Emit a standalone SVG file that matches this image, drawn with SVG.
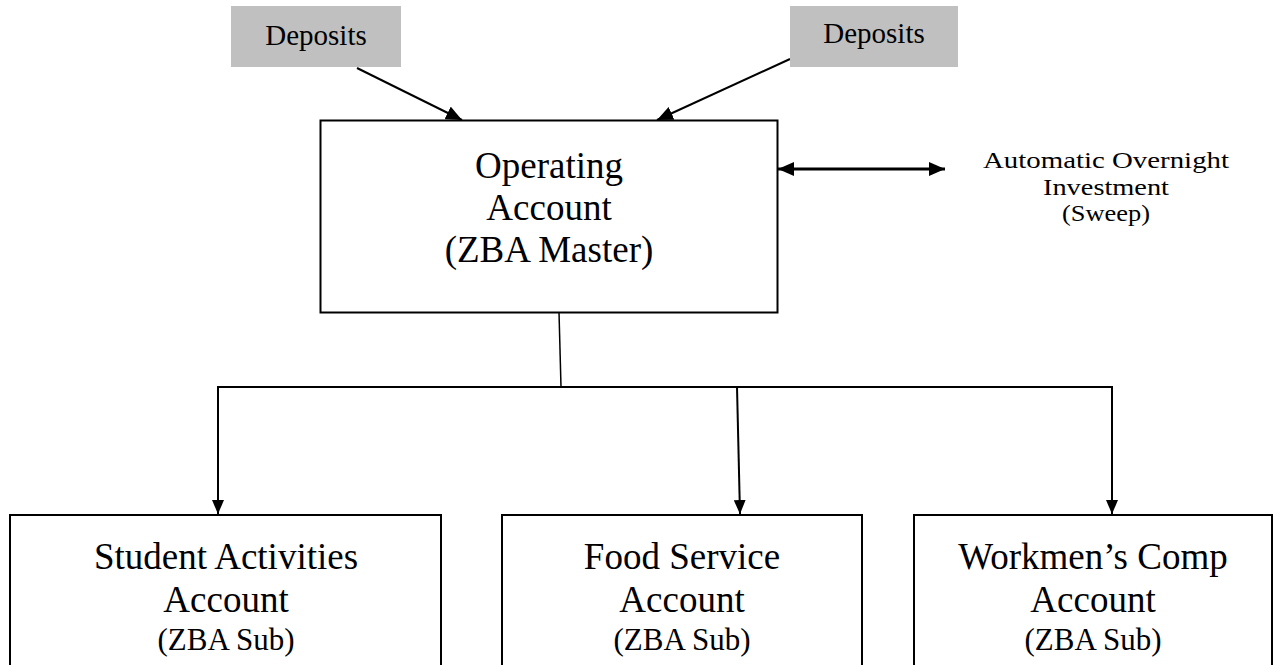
<svg xmlns="http://www.w3.org/2000/svg" width="1282" height="665" viewBox="0 0 1282 665">
<style>
.dep{fill:#c0c0c0;stroke:none}
.box{fill:#fff;stroke:#000;stroke-width:2}
.ln{stroke:#000;stroke-width:2;fill:none}
.t{font-family:"Liberation Serif","Times New Roman",serif;fill:#000;text-anchor:middle}
.big{font-size:37px}
.sm{font-size:29px}
.sw{font-size:23.5px}
.md{font-size:31px}
</style>
<defs>
<marker id="ah" viewBox="0 0 14 12" refX="14" refY="6" markerWidth="14" markerHeight="12" markerUnits="userSpaceOnUse" orient="auto-start-reverse">
<path d="M0,0 L14,6 L0,12 z" fill="#000"/>
</marker>
<marker id="ah2" viewBox="0 0 16 14" refX="16" refY="7" markerWidth="16" markerHeight="14" markerUnits="userSpaceOnUse" orient="auto-start-reverse">
<path d="M0,0 L16,7 L0,14 z" fill="#000"/>
</marker>
</defs>
<rect width="1282" height="665" fill="#fff"/>
<g id="connectors">
<line class="ln" x1="357" y1="68" x2="462" y2="120" marker-end="url(#ah2)"/>
<line class="ln" x1="790" y1="59" x2="657" y2="120" marker-end="url(#ah2)"/>
<line class="ln" x1="778" y1="169" x2="945" y2="169" marker-start="url(#ah2)" marker-end="url(#ah2)" style="stroke-width:3"/>
<line class="ln" x1="559" y1="312" x2="561" y2="387" style="stroke-width:1.5"/>
<line class="ln" x1="217" y1="387" x2="1113" y2="387"/>
<line class="ln" x1="218" y1="387" x2="218" y2="514" marker-end="url(#ah)"/>
<line class="ln" x1="737" y1="387" x2="740" y2="514" marker-end="url(#ah)"/>
<line class="ln" x1="1112" y1="387" x2="1112" y2="514" marker-end="url(#ah)"/>
</g>
<g id="deposits1">
<rect class="dep" x="231" y="6" width="170" height="61"/>
<text class="t sm" x="316" y="45">Deposits</text>
</g>
<g id="deposits2">
<rect class="dep" x="790" y="6" width="168" height="61"/>
<text class="t sm" x="874" y="43">Deposits</text>
</g>
<g id="operating">
<rect class="box" x="320.5" y="120.5" width="457" height="192"/>
<text class="t big" x="549" y="178">Operating</text>
<text class="t big" x="549" y="220">Account</text>
<text class="t big" x="549" y="262">(ZBA Master)</text>
</g>
<g id="sweep">
<text class="t sw" x="1106" y="168" textLength="246" lengthAdjust="spacingAndGlyphs">Automatic Overnight</text>
<text class="t sw" x="1106" y="195" textLength="126" lengthAdjust="spacingAndGlyphs">Investment</text>
<text class="t sw" x="1106" y="221" textLength="88" lengthAdjust="spacingAndGlyphs">(Sweep)</text>
</g>
<g id="student">
<rect class="box" x="10" y="515" width="431" height="170"/>
<text class="t big" x="226" y="569">Student Activities</text>
<text class="t big" x="226" y="612">Account</text>
<text class="t md" x="226" y="650">(ZBA Sub)</text>
</g>
<g id="food">
<rect class="box" x="502" y="515" width="360" height="170"/>
<text class="t big" x="682" y="569">Food Service</text>
<text class="t big" x="682" y="612">Account</text>
<text class="t md" x="682" y="650">(ZBA Sub)</text>
</g>
<g id="workmen">
<rect class="box" x="914" y="515" width="358" height="170"/>
<text class="t big" x="1093" y="569">Workmen’s Comp</text>
<text class="t big" x="1093" y="612">Account</text>
<text class="t md" x="1093" y="650">(ZBA Sub)</text>
</g>
</svg>
